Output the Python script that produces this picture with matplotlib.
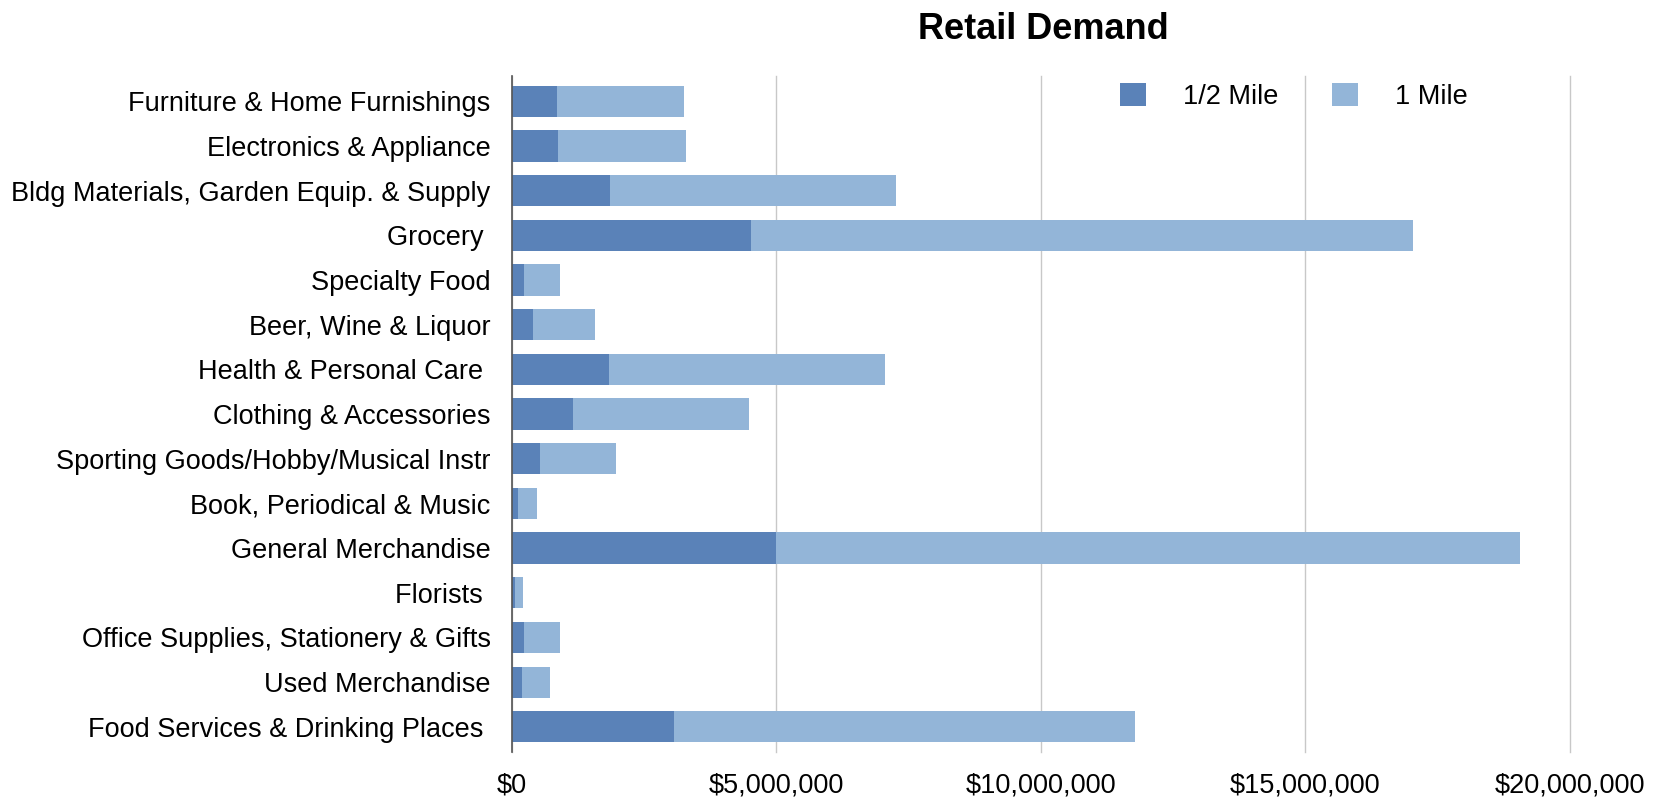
import matplotlib.pyplot as plt
from matplotlib.ticker import FuncFormatter

plt.rcParams['font.family'] = ['Liberation Sans', 'DejaVu Sans']

# retail categories, top to bottom
categories = ['Furniture & Home Furnishings', 'Electronics & Appliance',
              'Bldg Materials, Garden Equip. & Supply', 'Grocery ',
              'Specialty Food', 'Beer, Wine & Liquor', 'Health & Personal Care ',
              'Clothing & Accessories', 'Sporting Goods/Hobby/Musical Instr',
              'Book, Periodical & Music', 'General Merchandise', 'Florists ',
              'Office Supplies, Stationery & Gifts', 'Used Merchandise',
              'Food Services & Drinking Places ']

# demand in dollars
half_mile = [860000, 880000, 1870000, 4530000, 240000, 400000, 1850000,
             1160000, 540000, 120000, 5000000, 60000, 240000, 200000, 3070000]
one_mile = [3250000, 3290000, 7260000, 17030000, 920000, 1580000, 7060000,
            4490000, 1970000, 480000, 19050000, 220000, 920000, 720000, 11790000]

dark = '#5a82b8'
light = '#93b5d8'

fig = plt.figure(figsize=(16.57, 7.99), dpi=100)
ax = fig.add_axes([0.3087, 0.059, 0.6388, 0.846])

pos = list(range(len(categories)))
ax.barh(pos, one_mile, height=0.7, color=light, label='1 Mile', zorder=2)
ax.barh(pos, half_mile, height=0.7, color=dark, label='1/2 Mile', zorder=3)

ax.set_xlim(0, 20000000)
ax.set_ylim(14.56, -0.57)
ax.set_xticks([0, 5000000, 10000000, 15000000, 20000000])
ax.xaxis.set_major_formatter(FuncFormatter(lambda v, p: '${:,.0f}'.format(v)))
ax.set_yticks(pos)
ax.set_yticklabels(categories)
ax.tick_params(axis='y', length=0, pad=15, labelsize=19.5)
ax.tick_params(axis='x', length=0, pad=15, labelsize=19.5)

ax.grid(axis='x', color='#c8c8c8', linewidth=1, zorder=0)
for gl in ax.get_xgridlines():
    gl.set_clip_on(False)
for s in ['top', 'right', 'bottom']:
    ax.spines[s].set_visible(False)
ax.spines['left'].set_color('#555555')
ax.spines['left'].set_linewidth(1.2)
ax.spines['left'].set_zorder(4)

handles, labels = ax.get_legend_handles_labels()
ax.legend(handles[::-1], labels[::-1], loc='center left',
          bbox_to_anchor=(0.565, 0.97), frameon=False, ncol=2, fontsize=19.5,
          handlelength=0.95, handleheight=0.95, handletextpad=1.35,
          columnspacing=2.0, borderaxespad=0)

fig.text(0.6295, 0.963, 'Retail Demand', ha='center', va='center',
         fontsize=26, fontweight='bold')

fig.savefig('out.png', dpi=100)
